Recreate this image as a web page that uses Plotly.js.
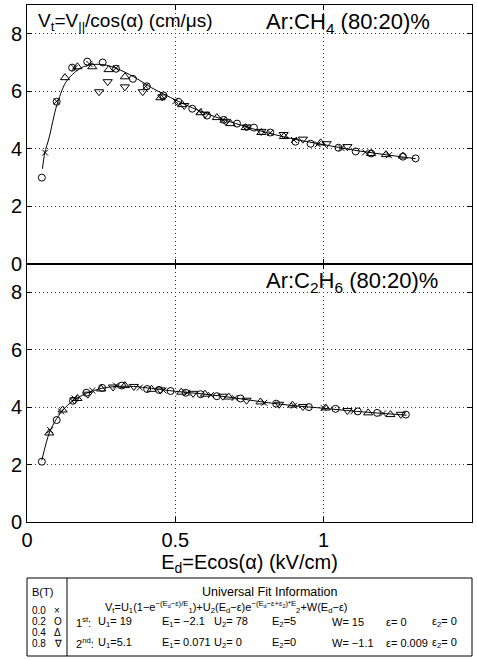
<!DOCTYPE html>
<html>
<head>
<meta charset="utf-8">
<script src="https://cdn.plot.ly/plotly-3.0.1.min.js"></script>
<style>html,body{margin:0;padding:0;background:#fff;}#chart{width:477px;height:660px;}</style>
</head>
<body>
<div id="chart"></div>
<script>
// ---------- Data: top panel Ar:CH4 (80:20)% ----------
const ch4_B00_x = [0.061, 0.10, 0.16, 0.21, 0.30, 0.40, 0.50, 0.58, 0.66, 0.74, 0.82, 0.90, 0.98, 1.06, 1.14, 1.22];
const ch4_B00_y = [3.86, 5.65, 6.80, 6.95, 6.80, 6.17, 5.65, 5.30, 5.00, 4.75, 4.55, 4.30, 4.15, 4.02, 3.87, 3.77];
const ch4_B02_x = [0.05, 0.10, 0.152, 0.203, 0.255, 0.30, 0.357, 0.404, 0.46, 0.51, 0.557, 0.607, 0.663, 0.708, 0.765, 0.82, 0.905, 0.956, 1.05, 1.108, 1.16, 1.267, 1.31];
const ch4_B02_y = [2.99, 5.63, 6.82, 7.03, 7.00, 6.78, 6.43, 6.17, 5.85, 5.63, 5.39, 5.15, 5.00, 4.87, 4.73, 4.56, 4.24, 4.17, 4.03, 3.90, 3.83, 3.72, 3.66];
const ch4_B04_x = [0.128, 0.17, 0.22, 0.275, 0.33, 0.45, 0.523, 0.585, 0.64, 0.686, 0.737, 0.79, 0.866, 0.99, 1.16, 1.21, 1.267];
const ch4_B04_y = [6.47, 6.85, 6.85, 6.75, 6.50, 5.77, 5.53, 5.25, 5.08, 4.87, 4.73, 4.56, 4.42, 4.20, 3.83, 3.79, 3.74];
const ch4_B08_x = [0.243, 0.272, 0.33, 0.39, 0.456, 0.53, 0.60, 0.67, 0.74, 0.79, 0.865, 0.93, 1.01, 1.08];
const ch4_B08_y = [5.98, 6.33, 6.15, 5.98, 5.80, 5.50, 5.20, 4.95, 4.75, 4.60, 4.49, 4.33, 4.17, 4.07];
const ch4_fit_x = [0.052, 0.06, 0.075, 0.10, 0.13, 0.16, 0.19, 0.225, 0.26, 0.30, 0.36, 0.42, 0.47, 0.53, 0.585, 0.65, 0.72, 0.80, 0.90, 1.00, 1.10, 1.20, 1.31];
const ch4_fit_y = [3.30, 3.85, 4.40, 5.50, 6.30, 6.65, 6.85, 6.93, 6.92, 6.80, 6.50, 6.12, 5.85, 5.55, 5.30, 5.05, 4.82, 4.58, 4.33, 4.14, 3.95, 3.80, 3.65];

// ---------- Data: bottom panel Ar:C2H6 (80:20)% ----------
const c2h6_B00_x = [0.078, 0.115, 0.16, 0.22, 0.30, 0.38, 0.46, 0.54, 0.62, 0.70, 0.80, 0.90, 1.00, 1.10, 1.20];
const c2h6_B00_y = [3.20, 3.85, 4.30, 4.58, 4.75, 4.68, 4.58, 4.50, 4.42, 4.32, 4.15, 4.05, 3.97, 3.85, 3.78];
const c2h6_B02_x = [0.05, 0.10, 0.155, 0.20, 0.253, 0.32, 0.405, 0.445, 0.484, 0.535, 0.585, 0.64, 0.72, 0.84, 0.95, 1.04, 1.115, 1.18, 1.277];
const c2h6_B02_y = [2.10, 3.55, 4.22, 4.50, 4.67, 4.75, 4.63, 4.60, 4.56, 4.50, 4.45, 4.38, 4.30, 4.12, 4.00, 3.94, 3.85, 3.80, 3.74];
const c2h6_B04_x = [0.075, 0.12, 0.17, 0.25, 0.33, 0.42, 0.52, 0.60, 0.68, 0.787, 0.895, 1.007, 1.15, 1.225];
const c2h6_B04_y = [3.10, 3.90, 4.30, 4.63, 4.75, 4.62, 4.52, 4.45, 4.35, 4.18, 4.07, 3.97, 3.80, 3.74];
const c2h6_B08_x = [0.16, 0.205, 0.29, 0.36, 0.45, 0.56, 0.66, 0.74, 0.85, 0.93, 1.08, 1.26];
const c2h6_B08_y = [4.25, 4.45, 4.70, 4.72, 4.60, 4.48, 4.38, 4.24, 4.10, 4.02, 3.88, 3.75];
const c2h6_fit_x = [0.05, 0.075, 0.10, 0.13, 0.16, 0.20, 0.25, 0.30, 0.36, 0.42, 0.50, 0.60, 0.70, 0.80, 0.90, 1.00, 1.10, 1.20, 1.28];
const c2h6_fit_y = [2.15, 3.10, 3.60, 4.00, 4.25, 4.48, 4.65, 4.72, 4.72, 4.65, 4.55, 4.45, 4.32, 4.17, 4.05, 3.96, 3.86, 3.78, 3.72];

// ---------- Ticks / labels ----------
const xTickVals = [0, 0.5, 1];
const xTickText = ['0', '0.5', '1'];
const yTickVals = [0, 2, 4, 6, 8];
const yTickText = ['0', '2', '4', '6', '8'];
const bLabels = ['0.0', '0.2', '0.4', '0.8'];
const bSymbols = ['×', 'O', 'Δ', '∇'];

const FONT = 'Liberation Sans, Arial, Helvetica, sans-serif';
const W = 477, H = 660, ML = 27, MR = 5, MT = 5, MB = 138;
const PW = W - ML - MR, PH = H - MT - MB;
const PX = x => (x - ML) / PW;
const PY = y => (H - MB - y) / PH;

function markerTrace(x, y, sym, xa, ya, size) {
  return {x: x, y: y, xaxis: xa, yaxis: ya, type: 'scatter', mode: 'markers', showlegend: false,
    marker: {symbol: sym, size: size || 7, color: '#000', line: {color: '#000', width: 1}}, hoverinfo: 'skip'};
}
function lineTrace(x, y, xa, ya) {
  return {x: x, y: y, xaxis: xa, yaxis: ya, type: 'scatter', mode: 'lines', showlegend: false,
    line: {color: '#000', width: 1, shape: 'spline', smoothing: 0.8}, hoverinfo: 'skip'};
}

const traces = [
  lineTrace(ch4_fit_x, ch4_fit_y, 'x', 'y'),
  markerTrace(ch4_B00_x, ch4_B00_y, 'x-thin-open', 'x', 'y', 6),
  markerTrace(ch4_B02_x, ch4_B02_y, 'circle-open', 'x', 'y', 7),
  markerTrace(ch4_B04_x, ch4_B04_y, 'triangle-up-open', 'x', 'y', 8),
  markerTrace(ch4_B08_x, ch4_B08_y, 'triangle-down-open', 'x', 'y', 8),
  lineTrace(c2h6_fit_x, c2h6_fit_y, 'x2', 'y2'),
  markerTrace(c2h6_B00_x, c2h6_B00_y, 'x-thin-open', 'x2', 'y2', 6),
  markerTrace(c2h6_B02_x, c2h6_B02_y, 'circle-open', 'x2', 'y2', 7),
  markerTrace(c2h6_B04_x, c2h6_B04_y, 'triangle-up-open', 'x2', 'y2', 8),
  markerTrace(c2h6_B08_x, c2h6_B08_y, 'triangle-down-open', 'x2', 'y2', 8)
];

const axBase = {
  showline: true, linecolor: '#000', linewidth: 1, mirror: 'ticks',
  ticks: 'inside', ticklen: 5, tickcolor: '#000', tickwidth: 1,
  showgrid: true, gridcolor: '#333', gridwidth: 1, griddash: '1px,3px',
  zeroline: false, tickfont: {family: FONT, size: 20, color: '#000'}
};
const xaxisTop = Object.assign({}, axBase, {range: [0, 1.5], tickvals: xTickVals, ticktext: xTickText, showticklabels: false, anchor: 'y', domain: [0, 1]});
const xaxisBot = Object.assign({}, axBase, {range: [0, 1.5], tickvals: xTickVals, ticktext: xTickText, anchor: 'y2', domain: [0, 1],
  title: {text: 'E<sub>d</sub>=Ecos(α) (kV/cm)', font: {family: FONT, size: 20, color: '#000'}, standoff: 0}});
const yaxisTop = Object.assign({}, axBase, {range: [0, 9], tickvals: yTickVals, ticktext: yTickText, anchor: 'x', domain: [0.5, 1]});
const yaxisBot = Object.assign({}, axBase, {range: [0, 9], tickvals: yTickVals, ticktext: yTickText, anchor: 'x2', domain: [0, 0.5]});

const ann = [];
function A(text, px, py, size, xanchor, yanchor) {
  ann.push({text: text, xref: 'paper', yref: 'paper', x: PX(px), y: PY(py), showarrow: false,
    xanchor: xanchor || 'left', yanchor: yanchor || 'middle', font: {family: FONT, size: size, color: '#000'}});
}
A('V<sub>t</sub>=V<sub>||</sub>/cos(α) (cm/μs)', 36, 22, 19);
A('Ar:CH<sub>4</sub> (80:20)%', 264, 23, 22);
A('Ar:C<sub>2</sub>H<sub>6</sub> (80:20)%', 264, 282, 22);

// legend box contents
A('B(T)', 30, 592, 11);
for (let i = 0; i < bLabels.length; i++) {
  A(bLabels[i], 30, 610 + i * 11, 10);
  A(bSymbols[i], 52, 610 + i * 11, 10);
}
A('Universal Fit Information', 270, 592, 12.5, 'center');
A('V<sub>t</sub>=U<sub>1</sub>(1−e<sup>−(E<sub>d</sub>−ε)/E</sup><sub>1</sub>)+U<sub>2</sub>(E<sub>d</sub>−ε)e<sup>−(E<sub>d</sub>−ε+ε<sub>2</sub>)*E</sup><sub>2</sub>+W(E<sub>d</sub>−ε)', 103, 607, 11);
const row1 = ['1<sup>st</sup>:', 'U<sub>1</sub>= 19', 'E<sub>1</sub>= −2.1', 'U<sub>2</sub>= 78', 'E<sub>2</sub>=5', 'W= 15', 'ε= 0', 'ε<sub>2</sub>= 0'];
const row2 = ['2<sup>nd</sup>:', 'U<sub>1</sub>=5.1', 'E<sub>1</sub>= 0.071', 'U<sub>2</sub>= 0', 'E<sub>2</sub>=0', 'W= −1.1', 'ε= 0.009', 'ε<sub>2</sub>= 0'];
const colX = [74, 96, 160, 212, 270, 330, 384, 430];
for (let i = 0; i < row1.length; i++) {
  A(row1[i], colX[i], 622, 11);
  A(row2[i], colX[i], 643, 11);
}

const shapes = [
  {type: 'rect', xref: 'paper', yref: 'paper', x0: PX(27), x1: PX(472), y0: PY(578), y1: PY(656), line: {color: '#000', width: 1}},
  {type: 'line', xref: 'paper', yref: 'paper', x0: PX(67), x1: PX(67), y0: PY(578), y1: PY(656), line: {color: '#000', width: 1}}
];

const layout = {
  width: W, height: H, margin: {l: ML, r: MR, t: MT, b: MB},
  paper_bgcolor: '#fff', plot_bgcolor: '#fff', showlegend: false,
  font: {family: FONT, color: '#000'},
  xaxis: xaxisTop, yaxis: yaxisTop, xaxis2: xaxisBot, yaxis2: yaxisBot,
  annotations: ann, shapes: shapes
};
Plotly.newPlot('chart', traces, layout, {staticPlot: true, displayModeBar: false});
</script>
</body>
</html>
